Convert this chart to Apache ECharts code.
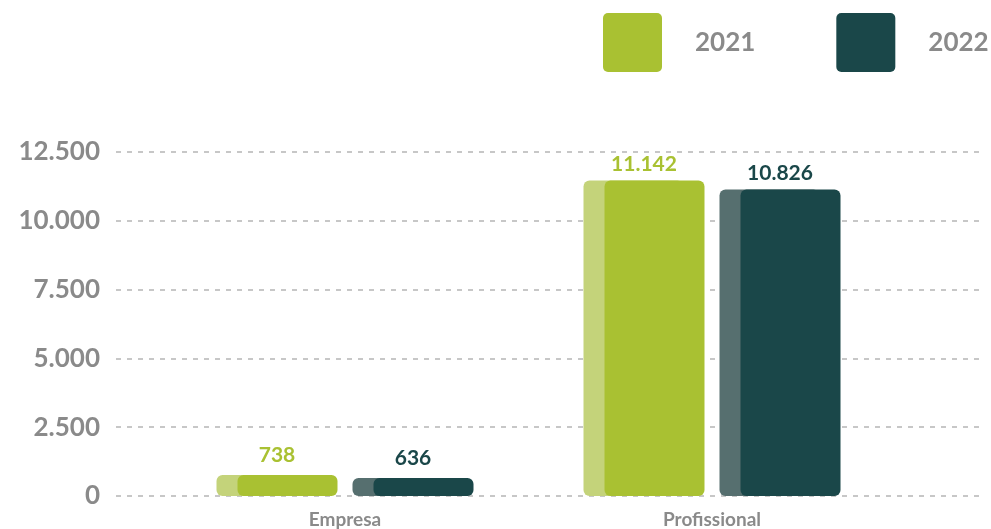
<!DOCTYPE html>
<html>
<head>
<meta charset="utf-8">
<script src="https://cdn.jsdelivr.net/npm/echarts@6/dist/echarts.min.js"></script>
<style>
	html, body { margin: 0; padding: 0; background: #fff; }
	#chart { width: 991px; height: 529px; }
</style>
</head>
<body>
<div id="chart"></div>
<script>
	// dati
	var categorie = ['Empresa', 'Profissional'];
	var anni = ['2021', '2022'];
	var valori2021 = [738, 11142];
	var valori2022 = [636, 10826];
	var tickY = [0, 2500, 5000, 7500, 10000, 12500];

	var verde = '#a9c132', verdeChiaro = '#c4d37a';
	var petrolio = '#1a4749', petrolioChiaro = '#566f6f';
	var grigio = '#8a8a8a';
	var font = 'Lato';
	var iconaLegenda = 'path://M5,0H54A5,5,0,0,1,59,5V54A5,5,0,0,1,54,59H5A5,5,0,0,1,0,54V5A5,5,0,0,1,5,0Z';

	function fmt(v) {
		return String(v).replace(/\B(?=(\d{3})+(?!\d))/g, '.');
	}

	// barra "doppia": rettangolo chiaro dietro, spostato a sinistra
	function disegna(offset, chiaro, scuro) {
		return function (params, api) {
			var idx = api.value(0), val = api.value(1);
			var top = api.coord([idx, val]);
			var base = api.coord([idx, 0]);
			var k = api.size([1, 0])[0] / 367;
			var c = top[0];
			var xl = c + (offset - 60.5) * k;
			var xm = c + (offset - 39.5) * k;
			var w = 100 * k;
			var h = base[1] - top[1];
			return {
				type: 'group',
				children: [
					{ type: 'rect', shape: { x: xl, y: top[1], width: w, height: h, r: 6 }, style: { fill: chiaro } },
					{ type: 'rect', shape: { x: xm, y: top[1], width: w, height: h, r: 6 }, style: { fill: scuro } },
					{
						type: 'text',
						x: c + offset * k, y: top[1] - (val < 2000 ? 20 : 16),
						style: {
							text: fmt(val), fill: scuro, align: 'center', verticalAlign: 'middle',
							font: 'bold 21px ' + font
						}
					}
				]
			};
		};
	}

	var myChart = echarts.init(document.getElementById('chart'));
	myChart.setOption({
		animation: false,
		legend: {
			left: 603, top: 13, padding: 0,
			itemWidth: 59, itemHeight: 59, itemGap: 81,
			data: [
				{ name: anni[0], icon: iconaLegenda, itemStyle: { color: verde } },
				{ name: anni[1], icon: iconaLegenda, itemStyle: { color: petrolio } }
			],
			textStyle: { color: grigio, fontSize: 26, fontWeight: 'bold', fontFamily: font, padding: [0, 0, 0, 28] }
		},
		grid: [
			{ left: 116, right: 11, top: 152, bottom: 33 },
			{ left: 161.5, right: 95.5, top: 152, bottom: 33 }
		],
		xAxis: [
			{ type: 'category', gridIndex: 0, data: [], show: false },
			{
				type: 'category', gridIndex: 1, data: categorie,
				axisLine: { show: false }, axisTick: { show: false },
				axisLabel: { color: grigio, fontSize: 19, fontWeight: 'bold', fontFamily: font, margin: 14 }
			}
		],
		yAxis: [
			{
				type: 'value', gridIndex: 0, min: tickY[0], max: tickY[tickY.length - 1], interval: 2500,
				axisLine: { show: false }, axisTick: { show: false },
				axisLabel: { color: grigio, fontSize: 26, fontWeight: 'bold', fontFamily: font, margin: 16, formatter: fmt },
				splitLine: { lineStyle: { color: '#b5b5b5', width: 1.5, type: [5, 6] } }
			},
			{ type: 'value', gridIndex: 1, min: 0, max: 12150, show: false, splitLine: { show: false } }
		],
		series: [
			{
				name: anni[0], type: 'custom', xAxisIndex: 1, yAxisIndex: 1,
				itemStyle: { color: verde },
				renderItem: disegna(-68, verdeChiaro, verde),
				data: valori2021.map(function (v, i) { return [i, v]; })
			},
			{
				name: anni[1], type: 'custom', xAxisIndex: 1, yAxisIndex: 1,
				itemStyle: { color: petrolio },
				renderItem: disegna(68, petrolioChiaro, petrolio),
				data: valori2022.map(function (v, i) { return [i, v]; })
			}
		]
	});
</script>
</body>
</html>
